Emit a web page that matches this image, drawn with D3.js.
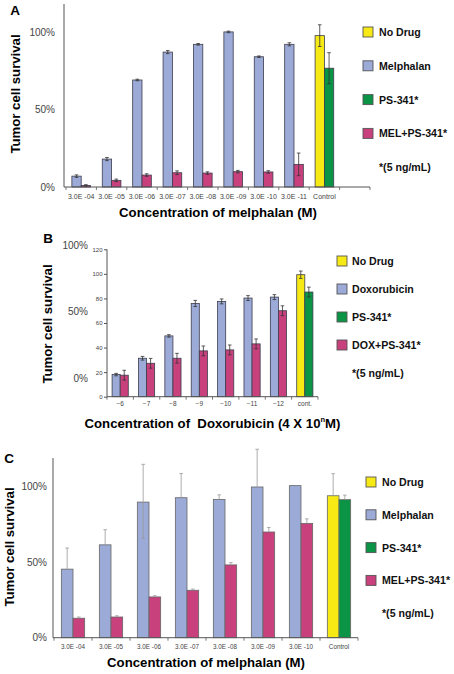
<!DOCTYPE html>
<html><head><meta charset="utf-8">
<script src="https://cdn.jsdelivr.net/npm/d3@7"></script>
<style>
body{margin:0;background:#fff}
svg{display:block}
text{font-family:"Liberation Sans",Arial,Helvetica,sans-serif}
</style>
</head><body>
<svg id="chart" width="454" height="674"></svg>
<script>
// ---------- DATA ----------
// Panel A
const catsA = ["3.0E -04","3.0E -05","3.0E -06","3.0E -07","3.0E -08","3.0E -09","3.0E -10","3.0E -11","Control",""];
const melA = [7, 18, 69, 87, 92, 100, 84, 92];
const melErrA = [0.8, 1, 0.5, 1, 0.5, 0.5, 0.5, 1];
const comboA = [1, 4.3, 7.7, 9.2, 9, 9.9, 9.7, 14.6];
const comboErrA = [0.5, 0.8, 0.8, 1.2, 0.8, 0.8, 0.8, 7.3];
const controlA = [97.6, 76.6];      // No Drug, PS-341
const controlErrA = [7, 10];
const legendA = ["No Drug","Melphalan","PS-341*","MEL+PS-341*"];

// Panel B
const catsB = ["\u22126","\u22127","\u22128","\u22129","\u221210","\u221211","\u221212","cont."];
const doxB = [18, 31.3, 49.5, 75.9, 77.6, 80.3, 81.1];
const doxErrB = [1, 1.5, 1, 2.5, 2, 2, 2];
const comboB = [17.5, 27.2, 31.3, 37.3, 38.1, 43, 70];
const comboErrB = [4, 4, 4, 4, 4, 4, 4];
const controlB = [99.3, 85.2];
const controlErrB = [3, 4];
const innerTicksB = [0, 20, 40, 60, 80, 100, 120];
const legendB = ["No Drug","Doxorubicin","PS-341*","DOX+PS-341*"];

// Panel C
const catsC = ["3.0E -04","3.0E -05","3.0E -06","3.0E -07","3.0E -08","3.0E -09","3.0E -10","Control"];
const melC = [45.4, 61.5, 89.8, 92.7, 91.6, 99.8, 100.7];
const melErrUpC = [14, 10, 25, 16, 3, 25, 0];
const melErrDownC = [0, 0, 24, 0, 0, 0, 0];
const comboC = [12.9, 13.7, 27, 31.4, 48.2, 70, 75.7];
const comboErrUpC = [0.8, 0.8, 0.8, 0.8, 1.5, 3, 3];
const controlC = [94, 91.4];
const controlErrUpC = [14.6, 3];
const legendC = ["No Drug","Melphalan","PS-341*","MEL+PS-341*"];

const pctTicks = [0, 50, 100];
const noteText = "*(5 ng/mL)";

// ---------- STYLE ----------
const BLUE = "#9baad7", PINK = "#c8417d", YELLOW = "#f7ea14", GREEN = "#0b9446";
const legendColors = [YELLOW, BLUE, GREEN, PINK];

const svg = d3.select("#chart");

function buildRows(cats, s1, e1u, e1d, s2, e2u, e2d, ctl, ctlU, ctlD){
  return cats.map((c, i) => {
    if (i < s1.length) return [
      {v: s1[i], eu: e1u[i], ed: e1d[i], c: BLUE},
      {v: s2[i], eu: e2u[i], ed: e2d[i], c: PINK}];
    if (c === "Control" || c === "cont.") return [
      {v: ctl[0], eu: ctlU[0], ed: ctlD[0], c: YELLOW},
      {v: ctl[1], eu: ctlU[1], ed: ctlD[1], c: GREEN}];
    return [];
  });
}

function drawPanel(o){
  const g = svg.append("g");
  const idx = o.cats.map((c, i) => i);
  const x = d3.scaleBand().domain(idx).range([o.x0, o.x1]).padding(0);
  const xi = d3.scaleBand().domain([0, 1]).range([0, x.bandwidth()]).paddingOuter(0.63).paddingInner(0);
  const y = d3.scaleLinear().domain([0, o.ymax]).range([o.yBase, o.yTop]);

  // bars
  const grp = g.selectAll("g.grp").data(o.rows).join("g")
    .attr("transform", (d, i) => `translate(${x(i)},0)`);
  grp.selectAll("rect").data(d => d).join("rect")
    .attr("x", (d, j) => xi(j))
    .attr("width", xi.bandwidth())
    .attr("y", d => y(d.v))
    .attr("height", d => y(0) - y(d.v))
    .attr("fill", d => d.c)
    .attr("stroke", o.barStroke)
    .attr("stroke-width", 0.8);
  // error bars
  const eb = grp.selectAll("g.eb").data(d => d).join("g")
    .attr("transform", (d, j) => `translate(${xi(j) + xi.bandwidth() / 2},0)`)
    .attr("stroke", o.errColor).attr("stroke-width", 0.8);
  eb.filter(d => d.eu > 0 || d.ed > 0).append("line")
    .attr("y1", d => y(d.v + d.eu)).attr("y2", d => y(d.v - d.ed));
  eb.filter(d => d.eu > 0).append("line")
    .attr("x1", -1.8).attr("x2", 1.8)
    .attr("y1", d => y(d.v + d.eu)).attr("y2", d => y(d.v + d.eu));
  eb.filter(d => d.ed > 0).append("line")
    .attr("x1", -1.8).attr("x2", 1.8)
    .attr("y1", d => y(d.v - d.ed)).attr("y2", d => y(d.v - d.ed));

  // x axis line + boundary ticks
  g.append("line").attr("x1", o.yAxisX).attr("x2", o.x1)
    .attr("y1", y(0)).attr("y2", y(0)).attr("stroke", "#555").attr("stroke-width", 1);
  g.selectAll("line.bt").data(d3.range(o.cats.length + 1)).join("line")
    .attr("x1", i => o.x0 + i * x.step()).attr("x2", i => o.x0 + i * x.step())
    .attr("y1", y(0)).attr("y2", y(0) + 3).attr("stroke", "#555").attr("stroke-width", 0.8);
  // x tick labels
  const xa = g.append("g").attr("transform", `translate(0,${y(0)})`)
    .call(d3.axisBottom(x).tickSize(0).tickPadding(o.xPad).tickFormat(i => o.cats[i]));
  xa.select(".domain").remove();
  xa.selectAll("text").attr("font-size", o.xFont).attr("fill", "#444")
    .attr("font-family", '"Liberation Sans",Arial,sans-serif');

  // y axis line
  g.append("line").attr("x1", o.yAxisX).attr("x2", o.yAxisX)
    .attr("y1", y(o.ymax)).attr("y2", y(0)).attr("stroke", "#555").attr("stroke-width", 1);

  // percentage labels
  const ps = o.pctScale || y;
  const ya = g.append("g").attr("transform", `translate(${o.pctX},0)`)
    .call(d3.axisLeft(ps).tickValues(pctTicks).tickSize(0).tickPadding(0).tickFormat(d => d + "%"));
  ya.select(".domain").remove();
  ya.selectAll("text").attr("font-size", 10).attr("fill", "#444")
    .attr("font-family", '"Liberation Sans",Arial,sans-serif');

  // inner numeric axis (panel B)
  if (o.innerTicks){
    const ia = g.append("g").attr("transform", `translate(${o.yAxisX},0)`)
      .call(d3.axisLeft(y).tickValues(o.innerTicks).tickSize(3).tickPadding(1.5));
    ia.select(".domain").remove();
    ia.selectAll("line").attr("stroke", "#555");
    ia.selectAll("text").attr("font-size", 6).attr("fill", "#444")
      .attr("font-family", '"Liberation Sans",Arial,sans-serif');
  }

  // titles
  g.append("text").attr("x", o.ytX).attr("y", o.ytY)
    .attr("transform", `rotate(-90,${o.ytX},${o.ytY})`)
    .attr("text-anchor", "middle").attr("dominant-baseline", "central")
    .attr("font-weight", "bold").attr("font-size", 13.2).text("Tumor cell survival");
  const xt = g.append("text").attr("x", (o.x0 + o.x1) / 2 + (o.xtDx || 0)).attr("y", o.xtY)
    .attr("text-anchor", "middle").attr("font-weight", "bold").attr("font-size", 13.2);
  if (o.xTitleParts){
    o.xTitleParts.forEach(p => {
      const t = xt.append("tspan").text(p.t);
      if (p.sup) t.attr("font-size", 7.5).attr("dy", -6);
      if (p.after) t.attr("dy", 6);
    });
  } else xt.text(o.xTitle);
  // panel letter
  g.append("text").attr("x", o.letterX).attr("y", o.letterY)
    .attr("text-anchor", "middle").attr("dominant-baseline", "central")
    .attr("font-weight", "bold").attr("font-size", 13.5).text(o.letter);

  // legend
  const lg = g.append("g");
  const items = lg.selectAll("g").data(o.legend).join("g")
    .attr("transform", (d, i) => `translate(${o.legX},${o.legY + i * o.legStep})`);
  items.append("rect").attr("x", 0).attr("y", -5).attr("width", 10).attr("height", 10)
    .attr("fill", (d, i) => legendColors[i]).attr("stroke", "#555").attr("stroke-width", 0.9);
  items.append("text").attr("x", o.legTextDx).attr("y", 0).attr("dominant-baseline", "central")
    .attr("font-weight", "bold").attr("font-size", 10.6).attr("fill", "#111").text(d => d);
  lg.append("text").attr("x", o.legX + o.legTextDx).attr("y", o.legY + o.legend.length * o.legStep)
    .attr("dominant-baseline", "central").attr("font-weight", "bold")
    .attr("font-size", 10.6).attr("fill", "#111").text(noteText);
}

const zeros = n => new Array(n).fill(0);

// Panel A
drawPanel({
  cats: catsA,
  rows: buildRows(catsA, melA, melErrA, melErrA, comboA, comboErrA, comboErrA, controlA, controlErrA, controlErrA),
  x0: 66, x1: 370, yAxisX: 64, yBase: 187, yTop: 4, ymax: 118,
  pctX: 55, xPad: 7, xFont: 7, barStroke: "#3d3d4d", errColor: "#333",
  ytX: 15, ytY: 94, xtY: 217, xTitle: "Concentration of melphalan (M)",
  letter: "A", letterX: 15, letterY: 10,
  legend: legendA, legX: 363, legY: 32, legStep: 33.8, legTextDx: 16
});

// Panel B
drawPanel({
  cats: catsB,
  rows: buildRows(catsB, doxB, doxErrB, doxErrB, comboB, comboErrB, comboErrB, controlB, controlErrB, controlErrB),
  x0: 107, x1: 318, yAxisX: 107, yBase: 396.7, yTop: 249.3, ymax: 120,
  pctScale: d3.scaleLinear().domain([0, 100]).range([378, 245]),
  innerTicks: innerTicksB,
  pctX: 88, xPad: 5, xFont: 6.5, barStroke: "#3d3d4d", errColor: "#333",
  ytX: 47, ytY: 324, xtY: 428, xtDx: 0,
  xTitleParts: [{t: "Concentration of \u00a0Doxorubicin (4 X 10"}, {t: "n", sup: true}, {t: "M)", after: true}],
  letter: "B", letterX: 48, letterY: 238,
  legend: legendB, legX: 337, legY: 261, legStep: 28, legTextDx: 15
});

// Panel C
drawPanel({
  cats: catsC,
  rows: buildRows(catsC, melC, melErrUpC, melErrDownC, comboC, comboErrUpC, zeros(comboC.length), controlC, controlErrUpC, [0, 0]),
  x0: 54, x1: 358, yAxisX: 53, yBase: 637.7, yTop: 458, ymax: 119,
  pctX: 47, xPad: 7, xFont: 6.3, barStroke: "#666", errColor: "#999",
  ytX: 9, ytY: 547, xtY: 667, xTitle: "Concentration of melphalan (M)",
  letter: "C", letterX: 9, letterY: 458,
  legend: legendC, legX: 366, legY: 482, legStep: 32.8, legTextDx: 16
});
</script>
</body></html>
